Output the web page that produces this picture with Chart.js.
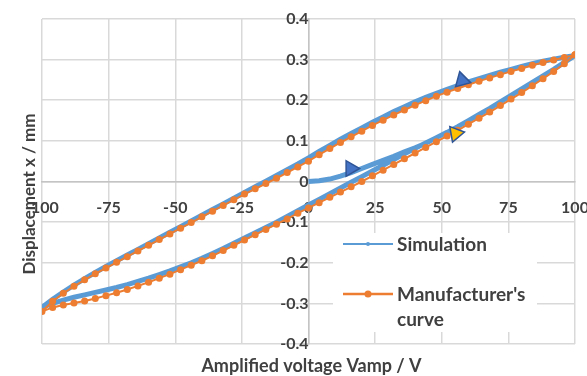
<!DOCTYPE html>
<html>
<head>
<meta charset="utf-8">
<script src="https://cdn.jsdelivr.net/npm/chart.js"></script>
<style>
  html, body { margin: 0; padding: 0; background: #fff; }
</style>
</head>
<body>
<canvas id="chart" width="587" height="376"></canvas>
<script>
// axis ticks
const xTickValues = [-100, -75, -50, -25, 0, 25, 50, 75, 100];
const xTickLabels = ['-100', '-75', '-50', '-25', '0', '25', '50', '75', '100'];
const yTickValues = [-0.4, -0.3, -0.2, -0.1, 0, 0.1, 0.2, 0.3, 0.4];
const yTickLabels = ['-0.4', '-0.3', '-0.2', '-0.1', '0', '0.1', '0.2', '0.3', '0.4'];

// Manufacturer's curve, descending branch (100 -> -100)
const manUpX = [100, 96, 92, 88, 84, 80, 76, 72, 68, 64, 60, 56, 52, 48, 44, 40, 36, 32, 28, 24, 20, 16, 12, 8, 4, 0,
  -4, -8, -12, -16, -20, -24, -28, -32, -36, -40, -44, -48, -52, -56, -60, -64, -68, -72, -76, -80, -84, -88, -92, -96, -100];
const manUpY = [0.312, 0.305, 0.299, 0.293, 0.286, 0.278, 0.271, 0.263, 0.255, 0.247, 0.238, 0.229, 0.220, 0.210, 0.199,
  0.188, 0.176, 0.164, 0.151, 0.138, 0.124, 0.110, 0.096, 0.081, 0.066, 0.050,
  0.036, 0.022, 0.008, -0.005, -0.018, -0.031, -0.045, -0.059, -0.073, -0.087, -0.101, -0.115, -0.129, -0.143,
  -0.157, -0.171, -0.185, -0.199, -0.213, -0.227, -0.242, -0.258, -0.275, -0.295, -0.320];
// Manufacturer's curve, ascending branch (-100 -> 100)
const manLowX = [-96, -92, -88, -84, -80, -76, -72, -68, -64, -60, -56, -52, -48, -44, -40, -36, -32, -28, -24, -20, -16, -12, -8, -4, 0,
  4, 8, 12, 16, 20, 24, 28, 32, 36, 40, 44, 48, 52, 56, 60, 64, 68, 72, 76, 80, 84, 88, 92, 96, 100];
const manLowY = [-0.310, -0.304, -0.299, -0.294, -0.288, -0.281, -0.274, -0.266, -0.257, -0.248, -0.238, -0.228, -0.217,
  -0.206, -0.195, -0.183, -0.170, -0.157, -0.144, -0.131, -0.118, -0.105, -0.092, -0.078, -0.065,
  -0.052, -0.039, -0.026, -0.013, 0.000, 0.014, 0.028, 0.042, 0.056, 0.070, 0.084, 0.098, 0.112, 0.126,
  0.141, 0.156, 0.171, 0.187, 0.203, 0.219, 0.236, 0.253, 0.271, 0.290, 0.312];

// Simulation: initial curve from origin
const simInitX = [0, 4, 8, 12, 16, 20, 24, 28, 32, 36, 40, 44];
const simInitY = [0.000, 0.002, 0.006, 0.013, 0.022, 0.032, 0.042, 0.052, 0.062, 0.073, 0.083, 0.094];
// Simulation: descending branch (100 -> -100)
const simUpX = [100, 96, 92, 88, 84, 80, 76, 72, 68, 64, 60, 56, 52, 48, 44, 40, 36, 32, 28, 24, 20, 16, 12, 8, 4, 0,
  -4, -8, -12, -16, -20, -24, -28, -32, -36, -40, -44, -48, -52, -56, -60, -64, -68, -72, -76, -80, -84, -88, -92, -96, -100];
const simUpY = [0.310, 0.306, 0.301, 0.296, 0.290, 0.283, 0.276, 0.269, 0.261, 0.253, 0.245, 0.236, 0.227, 0.217, 0.207,
  0.196, 0.184, 0.172, 0.159, 0.146, 0.132, 0.118, 0.104, 0.089, 0.074, 0.058,
  0.043, 0.029, 0.015, 0.001, -0.013, -0.027, -0.041, -0.055, -0.069, -0.083, -0.097, -0.111, -0.125, -0.139,
  -0.153, -0.167, -0.181, -0.195, -0.209, -0.224, -0.239, -0.255, -0.272, -0.290, -0.310];
// Simulation: ascending branch (-100 -> 100)
const simLowX = [-100, -96, -92, -88, -84, -80, -76, -72, -68, -64, -60, -56, -52, -48, -44, -40, -36, -32, -28, -24, -20, -16, -12, -8, -4, 0,
  4, 8, 12, 16, 20, 24, 28, 32, 36, 40, 44, 48, 52, 56, 60, 64, 68, 72, 76, 80, 84, 88, 92, 96, 100];
const simLowY = [-0.310, -0.300, -0.292, -0.285, -0.279, -0.273, -0.267, -0.261, -0.254, -0.246, -0.238, -0.229, -0.220,
  -0.210, -0.200, -0.189, -0.177, -0.165, -0.152, -0.139, -0.126, -0.113, -0.100, -0.086, -0.072, -0.058,
  -0.044, -0.030, -0.016, -0.002, 0.012, 0.026, 0.040, 0.054, 0.068, 0.082, 0.095, 0.108, 0.121, 0.135,
  0.150, 0.165, 0.180, 0.196, 0.212, 0.228, 0.244, 0.260, 0.276, 0.293, 0.310];

// direction arrows
const arrowX = [15.8, 57.6, 55.2];
const arrowY = [0.032, 0.249, 0.118];
const arrowRotation = [90, -15, 200];
const arrowFill = ['#4472C4', '#4472C4', '#FFC000'];

const seriesNames = ['Simulation', "Manufacturer's curve"];
const xTitle = 'Amplified voltage Vamp / V';
const yTitle = 'Displacement x / mm';

const BLUE = '#5B9BD5';
const ORANGE = '#ED7D31';
const TEXT = '#404040';
const FONT = 'Lato, "Liberation Sans", sans-serif';

function toPoints(xs, ys) {
  return xs.map((x, i) => ({x: x, y: ys[i]}));
}

const simPoints = toPoints(simInitX, simInitY)
  .concat(toPoints(simLowX, simLowY).filter(p => p.x >= 48))
  .concat(toPoints(simUpX, simUpY).slice(1))
  .concat(toPoints(simLowX, simLowY).slice(1));
const manPoints = toPoints(manUpX, manUpY).concat(toPoints(manLowX, manLowY));

// centred axes: keep their label padding from shrinking the plot
function noPadding(s) {
  s.paddingLeft = s.paddingRight = s.paddingTop = s.paddingBottom = 0;
}

// titles and the legend box inside the plot
const decorations = {
  id: 'decorations',
  afterDraw(chart) {
    const ctx = chart.ctx;
    const ca = chart.chartArea;
    ctx.save();
    ctx.fillStyle = TEXT;
    ctx.textAlign = 'center';
    ctx.textBaseline = 'middle';
    ctx.font = 'bold 18px ' + FONT;
    ctx.fillText(xTitle, (ca.left + ca.right) / 2 + 3, 366);
    ctx.font = 'bold 17px ' + FONT;
    ctx.translate(30, 194);
    ctx.rotate(-Math.PI / 2);
    ctx.fillText(yTitle, 0, 0);
    ctx.restore();

    // legend
    ctx.save();
    ctx.fillStyle = '#fff';
    ctx.fillRect(333, 233, 204, 99);
    const items = [
      {color: BLUE, width: 2, r: 2, y: 244, lines: [seriesNames[0]]},
      {color: ORANGE, width: 2.5, r: 3.5, y: 294, lines: ["Manufacturer's", 'curve']}
    ];
    items.forEach(it => {
      ctx.strokeStyle = it.color;
      ctx.lineWidth = it.width;
      ctx.beginPath();
      ctx.moveTo(343, it.y);
      ctx.lineTo(393, it.y);
      ctx.stroke();
      ctx.fillStyle = it.color;
      ctx.beginPath();
      ctx.arc(368, it.y, it.r, 0, Math.PI * 2);
      ctx.fill();
      ctx.fillStyle = TEXT;
      ctx.font = 'bold 19px ' + FONT;
      ctx.textAlign = 'left';
      ctx.textBaseline = 'middle';
      it.lines.forEach((t, k) => ctx.fillText(t, 397, it.y + 1 + k * 25));
    });
    ctx.restore();
  }
};

new Chart(document.getElementById('chart'), {
  type: 'scatter',
  data: {
    datasets: [
      {
        label: 'arrows',
        data: toPoints(arrowX, arrowY),
        pointStyle: 'triangle',
        pointRadius: 9,
        pointHoverRadius: 9,
        rotation: arrowRotation,
        backgroundColor: arrowFill,
        borderColor: '#2F5597',
        borderWidth: 1.5,
        order: 0
      },
      {
        label: seriesNames[1],
        data: manPoints,
        showLine: true,
        borderColor: ORANGE,
        borderWidth: 2,
        backgroundColor: ORANGE,
        pointRadius: 3.5,
        pointBorderWidth: 0,
        order: 1
      },
      {
        label: seriesNames[0],
        data: simPoints,
        showLine: true,
        borderColor: BLUE,
        borderWidth: 5,
        pointRadius: 0,
        order: 2
      }
    ]
  },
  options: {
    responsive: false,
    animation: false,
    devicePixelRatio: 1,
    layout: {padding: {left: 42, right: 12, top: 19, bottom: 32}},
    plugins: {
      legend: {display: false},
      tooltip: {enabled: false}
    },
    scales: {
      x: {
        type: 'linear',
        position: {y: 0},
        min: -100,
        max: 100,
        afterBuildTicks: s => { s.ticks = xTickValues.map(v => ({value: v})); },
        afterFit: noPadding,
        ticks: {
          padding: 17,
          color: TEXT,
          font: {family: FONT, size: 16, weight: 'bold'},
          callback: v => xTickLabels[xTickValues.indexOf(v)]
        },
        grid: {color: '#d9d9d9', lineWidth: 1.5, drawTicks: false},
        border: {color: '#c4c4c4', width: 1.5}
      },
      y: {
        type: 'linear',
        position: {x: 0},
        min: -0.4,
        max: 0.4,
        afterBuildTicks: s => { s.ticks = yTickValues.map(v => ({value: v})); },
        afterFit: noPadding,
        ticks: {
          padding: 23,
          color: TEXT,
          font: {family: FONT, size: 16, weight: 'bold'},
          callback: v => yTickLabels[yTickValues.findIndex(t => Math.abs(t - v) < 1e-9)]
        },
        grid: {color: '#d9d9d9', lineWidth: 1.5, drawTicks: false},
        border: {color: '#c4c4c4', width: 1.5}
      }
    }
  },
  plugins: [decorations]
});
</script>
</body>
</html>
